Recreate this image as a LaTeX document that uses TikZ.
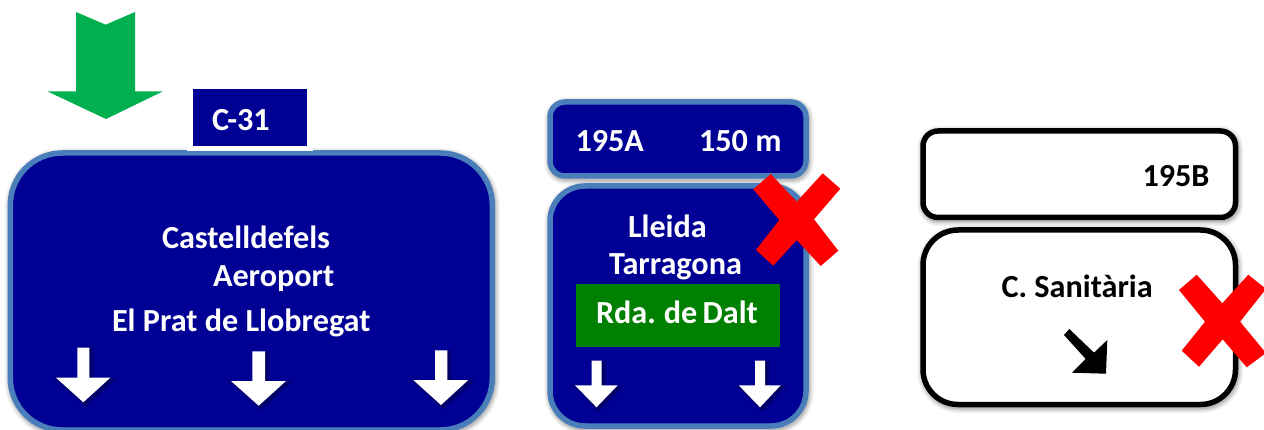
\documentclass[tikz,border=0pt]{standalone}
\usepackage{fontspec}
\setmainfont{Carlito}
\definecolor{signblue}{HTML}{000094}
\definecolor{signedge}{HTML}{4A7EBB}
\definecolor{signgreen}{HTML}{008000}
\definecolor{arrowgreen}{HTML}{00B050}
\tikzset{
  softshadow/.style={
    preaction={draw=black,draw opacity=.05,line width=#1+8pt,transform canvas={xshift=1pt,yshift=-2pt}},
    preaction={draw=black,draw opacity=.06,line width=#1+5pt,transform canvas={xshift=1pt,yshift=-2pt}},
    preaction={draw=black,draw opacity=.08,line width=#1+2.5pt,transform canvas={xshift=1pt,yshift=-2pt}},
    preaction={draw=black,draw opacity=.10,line width=#1,transform canvas={xshift=1pt,yshift=-2pt}}},
  boxbase/.style={rectangle,inner sep=0pt,outer sep=0pt,anchor=north west,text width=0pt,softshadow=5.5pt},
  bluebox/.style={boxbase,draw=signedge,fill=signblue,line width=5.5pt},
  whitebox/.style={boxbase,draw=black,fill=white,line width=5.5pt},
  label/.style={font=\fontsize{32.2}{32.2}\selectfont\bfseries,inner sep=0pt,outer sep=0pt,anchor=base west},
  wlabel/.style={label,text=white},
  klabel/.style={label,text=black},
  plate/.style={rectangle,inner sep=0pt,outer sep=0pt,anchor=north west},
  whitearrow/.style={fill=white,
    preaction={fill=black,fill opacity=.10,draw=black,draw opacity=.10,line width=5pt,transform canvas={xshift=2pt,yshift=-2pt}},
    preaction={fill=black,fill opacity=.12,draw=black,draw opacity=.12,line width=2.5pt,transform canvas={xshift=2pt,yshift=-2pt}}},
  redx/.style={fill=red}
}
\begin{document}
\begin{tikzpicture}[x=1pt,y=-1pt]
\useasboundingbox (0,0) rectangle (1264,430);

% green arrow
\fill[arrowgreen] (76,12) -- (105.7,24.7) -- (135,12) -- (135,91.5) -- (162.7,91.5) -- (106,119) -- (47.7,91.5) -- (76,91.5) -- cycle;

% left sign
\node[bluebox,rounded corners=52pt,minimum width=482pt,minimum height=277pt] (bigsign) at (10.3,153) {};
\node[plate,fill=white,minimum width=126pt,minimum height=6.5pt] (c31gap) at (187,145) {};
\node[plate,fill=signblue,minimum width=114pt,minimum height=56.4pt] (c31plate) at (193,89.3) {};
\node[wlabel] (c31) at (212,130.5) {C-31};
\node[wlabel] (cast) at (162,249) {Castelldefels};
\node[wlabel] (aero) at (213,287) {Aeroport};
\node[wlabel] (prat) at (112,331) {El Prat de Llobregat};
\path[whitearrow] (77.3,347.7) -- (89.3,347.7) -- (89.3,377.7) -- (110.3,377.7) -- (83.3,402.3) -- (56,377.7) -- (77.3,377.7) -- cycle;
\path[whitearrow] (252.3,351.3) -- (265,351.3) -- (265,381) -- (286,381) -- (258.7,405.7) -- (231,381) -- (252.3,381) -- cycle;
\path[whitearrow] (435,350.3) -- (447.3,350.3) -- (447.3,380) -- (468.3,380) -- (441,405) -- (413.3,380) -- (435,380) -- cycle;

% middle sign
\node[bluebox,rounded corners=15pt,minimum width=256pt,minimum height=74pt] (exitA) at (550,102) {};
\node[bluebox,rounded corners=35pt,minimum width=256pt,minimum height=240pt] (midsign) at (550,186) {};
\node[wlabel] (a195) at (575.5,151.5) {195A};
\node[wlabel] (m150) at (699,151.5) {150 m};
\node[wlabel] (lleida) at (628,237.5) {Lleida};
\node[wlabel] (tarr) at (609,274.5) {T{}arragona};
\node[plate,fill=signgreen,minimum width=204pt,minimum height=62.7pt] (rdaplate) at (576,284) {};
\node[wlabel] (rda) at (596,324) {\spaceskip=5.4pt Rda. de Dalt};
\path[whitearrow] (591.7,360.7) -- (601.7,360.7) -- (601.7,385.3) -- (617.7,385.3) -- (596.5,407.3) -- (575,385.3) -- (591.7,385.3) -- cycle;
\path[whitearrow] (755,360.7) -- (765,360.7) -- (765,385.3) -- (780.7,385.3) -- (760,407.3) -- (738.7,385.3) -- (755,385.3) -- cycle;
\fill[redx] (753.3,189.3) -- (770.7,174) -- (796.7,201.7) -- (822.7,173.3) -- (840.3,188.7) -- (814,219.3) -- (838.3,250.7) -- (820.7,266) -- (796.7,240) -- (773.3,265.7) -- (756,250) -- (779.3,220) -- cycle;

% right sign
\node[whitebox,rounded corners=15pt,minimum width=312.5pt,minimum height=86.5pt] (exitB) at (923,131) {};
\node[whitebox,rounded corners=35pt,minimum width=312.5pt,minimum height=174.5pt] (rightsign) at (923,230) {};
\node[klabel] (b195) at (1142.5,186.5) {195B};
\node[klabel] (sanit) at (1001.5,297.5) {C. Sanitària};
\fill[black] (1069.3,329) -- (1094,352.7) -- (1107.3,340) -- (1106,373.7) -- (1072,372.7) -- (1085.7,359) -- (1064,335) -- cycle;
\fill[redx] (1179,290) -- (1196.7,274.7) -- (1222.3,303.3) -- (1248.3,274.7) -- (1266,289) -- (1240,321.7) -- (1266,353) -- (1246.7,367.3) -- (1222.7,339.3) -- (1199,366.7) -- (1181.7,350.7) -- (1205,321.7) -- cycle;
\end{tikzpicture}
\end{document}
